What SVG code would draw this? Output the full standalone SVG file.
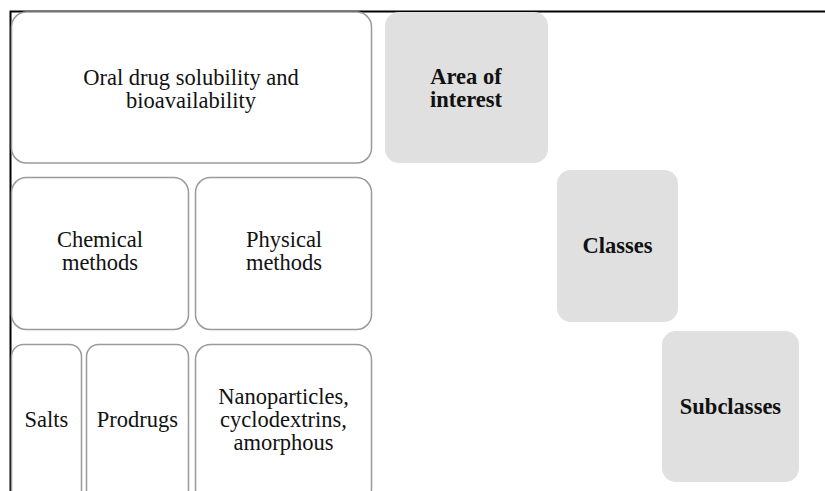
<svg xmlns="http://www.w3.org/2000/svg" width="825" height="491" viewBox="0 0 825 491">
<style>
.n{fill:#fff;stroke:#9a9a9a;stroke-width:1.5}
.h{fill:#e0e0e0;stroke:none}
text{font-family:"Liberation Serif","Times New Roman",serif;font-size:22.5px;fill:#111;text-anchor:middle}
.b{font-weight:bold}
</style>
<rect width="825" height="491" fill="#fff"/>
<g id="frame"><path d="M10.5 491V11.5H825" fill="none" stroke="#000" stroke-width="2"/></g>
<g id="connectors"></g>
<g id="oral"><rect class="n" x="11.5" y="12" width="360" height="151" rx="15"/><text x="191" y="85">Oral drug solubility and</text><text x="191" y="108">bioavailability</text></g>
<g id="area"><rect class="h" x="385" y="12" width="163" height="151" rx="14"/><text class="b" x="466" y="84">Area of</text><text class="b" x="466" y="107">interest</text></g>
<g id="chemical"><rect class="n" x="11.5" y="177.5" width="177" height="152" rx="15"/><text x="100" y="247">Chemical</text><text x="100" y="270">methods</text></g>
<g id="physical"><rect class="n" x="195.5" y="177.5" width="176" height="152" rx="15"/><text x="284" y="247">Physical</text><text x="284" y="270">methods</text></g>
<g id="classes"><rect class="h" x="557" y="170" width="121" height="152" rx="14"/><text class="b" x="617.5" y="253">Classes</text></g>
<g id="salts"><rect class="n" x="11.5" y="344.5" width="70" height="160" rx="12"/><text x="46.5" y="427">Salts</text></g>
<g id="prodrugs"><rect class="n" x="86.5" y="344.5" width="102" height="160" rx="12"/><text x="137.5" y="427">Prodrugs</text></g>
<g id="nano"><rect class="n" x="195.5" y="344.5" width="176" height="160" rx="15"/><text x="283.5" y="404">Nanoparticles,</text><text x="283.5" y="427">cyclodextrins,</text><text x="283.5" y="450">amorphous</text></g>
<g id="subclasses"><rect class="h" x="662" y="331" width="137" height="151" rx="14"/><text class="b" x="730.5" y="414">Subclasses</text></g>
</svg>
